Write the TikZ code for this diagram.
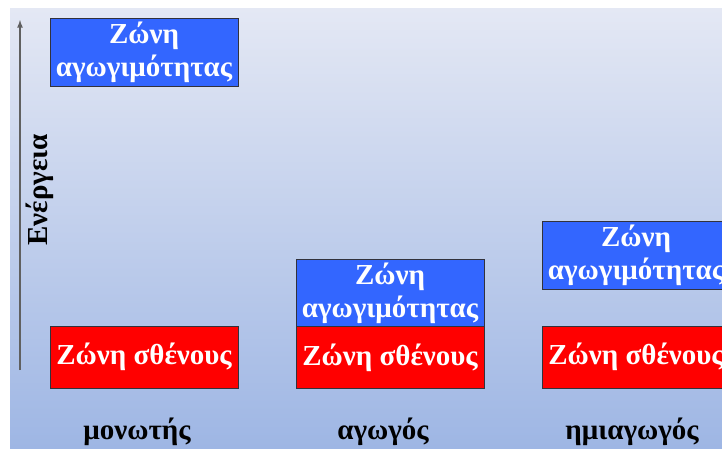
\documentclass[tikz,border=0pt]{standalone}
\usepackage{fontspec}
\setmainfont{Liberation Serif}
\usetikzlibrary{arrows}
\definecolor{bandblue}{RGB}{51,102,255}
\definecolor{bandred}{RGB}{255,0,0}
\definecolor{bandedge}{RGB}{50,50,60}
\definecolor{bgtop}{RGB}{228,232,244}
\definecolor{bgbottom}{RGB}{158,182,228}
\tikzstyle{band}=[rectangle, draw=bandedge, line width=1pt, minimum width=188pt, inner sep=0pt, align=center, text=white, font=\bfseries\fontsize{29}{33}\selectfont]
\tikzstyle{conduction}=[band, fill=bandblue, minimum height=68pt]
\tikzstyle{valence}=[band, fill=bandred, minimum height=62pt]
\tikzstyle{material}=[font=\bfseries\fontsize{29}{33}\selectfont]
\newcommand{\band}{\node}

\begin{document}
\begin{tikzpicture}[x=1pt, y=-1pt]
\fill[white] (0,0) rectangle (722,448);
\clip (0,0) rectangle (722,448);
\shade[top color=bgtop, bottom color=bgbottom] (10,8) rectangle (722,448);
% energy axis
\coordinate (axisbot) at (20,370);
\coordinate (axistop) at (20,20);
\draw[-latex, line width=1.6pt, draw=gray!75!black] (axisbot) -- (axistop);
\node[rotate=90, font=\bfseries\fontsize{29}{33}\selectfont] (energy) at (40,190) {Ενέργεια};
% bands
\band[conduction] (cb1) at (144,52) {Ζώνη\\αγωγιμότητας};
\band[valence] (vb1) at (144,357) {Ζώνη σθένους};
\band[conduction] (cb2) at (390,293) {Ζώνη\\αγωγιμότητας};
\band[valence] (vb2) at (390,357.5) {Ζώνη σθένους};
\band[conduction] (cb3) at (636,255.5) {Ζώνη\\αγωγιμότητας};
\band[valence] (vb3) at (636,357) {Ζώνη σθένους};
% materials
\node[material] (insulator) at (137,432) {μονωτής};
\node[material] (conductor) at (383,432) {αγωγός};
\node[material] (semiconductor) at (632,432) {ημιαγωγός};
\end{tikzpicture}
\end{document}
